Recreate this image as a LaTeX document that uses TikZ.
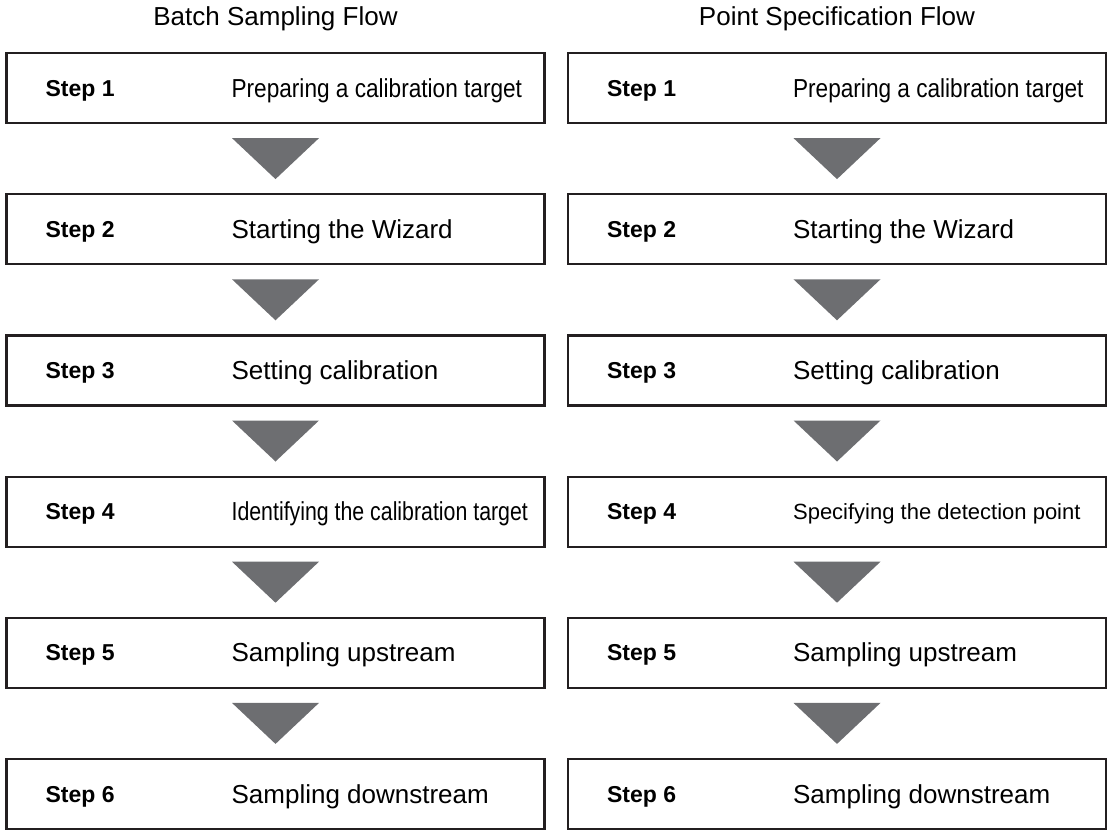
\documentclass[tikz,border=0pt]{standalone}
\usepackage{graphicx}
\usepackage{fontspec}
\setmainfont{Liberation Sans}
\usetikzlibrary{calc}

\definecolor{boxline}{HTML}{231F20}
\definecolor{arrowgray}{HTML}{6D6E71}

\tikzset{
  stepbox/.style={draw=boxline, line width=2.2pt, minimum width=538pt, minimum height=70pt, inner sep=0pt},
  steplabel/.style={anchor=base west, inner sep=0pt, font=\fontsize{23}{23}\selectfont\bfseries},
  desclabel/.style={anchor=base west, inner sep=0pt, font=\fontsize{26}{26}\selectfont},
  flowtitle/.style={anchor=base, inner sep=0pt, font=\fontsize{26}{26}\selectfont},
  downarrow/.style={fill=arrowgray}
}

\begin{document}
\begin{tikzpicture}[x=1pt, y=-1pt]
    \useasboundingbox (0,0) rectangle (1108,830);

    % step boxes, left and right flow
    \foreach \i in {1,...,6} {
        \node[stepbox] (L\i) at (275.5, {88+141.2*(\i-1)}) {};
        \node[stepbox] (R\i) at (837, {88+141.2*(\i-1)}) {};
        \node[steplabel] (LS\i) at ($(L\i.west)+(40,8)$) {Step \i};
        \node[steplabel] (RS\i) at ($(R\i.west)+(40,8)$) {Step \i};
    }

    % descriptions
    \foreach \i/\sx/\txt in {1/0.87/Preparing a calibration target,
                             2/1/Starting the Wizard,
                             3/1/Setting calibration,
                             4/0.82/Identifying the calibration target,
                             5/1/Sampling upstream,
                             6/1/Sampling downstream}
        \node[desclabel] (LD\i) at ($(L\i.west)+(226,9)$) {\scalebox{\sx}[1]{\txt}};
    \foreach \i/\sx/\txt in {1/0.87/Preparing a calibration target,
                             2/1/Starting the Wizard,
                             3/1/Setting calibration,
                             5/1/Sampling upstream,
                             6/1/Sampling downstream}
        \node[desclabel] (RD\i) at ($(R\i.west)+(226,9)$) {\scalebox{\sx}[1]{\txt}};
    \node[desclabel] (RD4) at ($(R4.west)+(226,8)$) {\fontsize{22}{22}\selectfont Specifying the detection point};

    % titles
    \node[flowtitle] (LT) at ($(L1.north)+(0,-26)$) {Batch Sampling Flow};
    \node[flowtitle] (RT) at ($(R1.north)+(0,-26)$) {Point Specification Flow};

    % arrows between steps
    \foreach \i [evaluate=\i as \j using int(\i+1)] in {1,...,5} {
        \fill[downarrow] ($(L\i.south)+(-43.5,14)$) -- ($(L\i.south)+(43.5,14)$) -- ($(L\j.north)+(0,-14)$) -- cycle;
        \fill[downarrow] ($(R\i.south)+(-43.5,14)$) -- ($(R\i.south)+(43.5,14)$) -- ($(R\j.north)+(0,-14)$) -- cycle;
    }
\end{tikzpicture}
\end{document}
